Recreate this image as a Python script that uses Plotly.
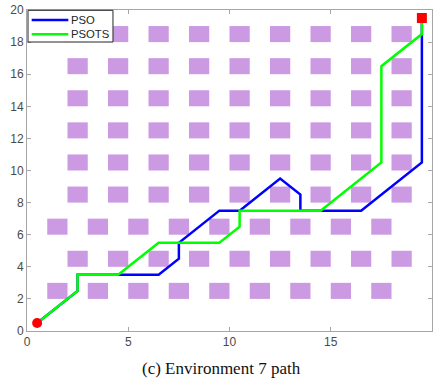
import plotly.graph_objects as go

# Obstacles (1x1 squares, lower-left corners)
rows_y = [2, 4, 6, 8, 10, 12, 14, 16, 18]
cols_a = [2, 4, 6, 8, 10, 12, 14, 16, 18]
cols_b = [1, 3, 5, 7, 9, 11, 13, 15, 17]
rows_b = [2, 6]
obs_size = 1

# Paths
pso_x = [0.5, 2.5, 2.5, 4.5, 6.5, 7.5, 7.5, 9.5, 10.5, 12.5, 13.5, 13.5, 16.5, 19.5, 19.5]
pso_y = [0.5, 2.5, 3.5, 3.5, 3.5, 4.5, 5.5, 7.5, 7.5, 9.5, 8.5, 7.5, 7.5, 10.5, 19.5]
psots_x = [0.5, 2.5, 2.5, 4.5, 6.5, 9.5, 10.5, 10.5, 14.5, 17.5, 17.5, 19.5, 19.5]
psots_y = [0.5, 2.5, 3.5, 3.5, 5.5, 5.5, 6.5, 7.5, 7.5, 10.5, 16.5, 18.5, 19.5]
start = (0.5, 0.5)
goal = (19.5, 19.5)

x_ticks = [0, 5, 10, 15, 20]
y_ticks = [0, 2, 4, 6, 8, 10, 12, 14, 16, 18, 20]

series_names = ["PSO", "PSOTS"]
series_colors = ["#0000ff", "#00ff00"]

fig = go.Figure()

shapes = []
for ry in rows_y:
    cols = cols_b if ry in rows_b else cols_a
    for cx in cols:
        shapes.append(dict(type="rect", xref="x", yref="y", x0=cx, x1=cx + obs_size,
                           y0=ry, y1=ry + obs_size, fillcolor="#cc99e3",
                           line=dict(width=0), layer="below"))

fig.add_trace(go.Scatter(x=pso_x, y=pso_y, mode="lines", name=series_names[0],
                         line=dict(color=series_colors[0], width=2.5), showlegend=False))
fig.add_trace(go.Scatter(x=psots_x, y=psots_y, mode="lines", name=series_names[1],
                         line=dict(color=series_colors[1], width=2.5), showlegend=False))
fig.add_trace(go.Scatter(x=[start[0]], y=[start[1]], mode="markers", showlegend=False,
                         marker=dict(color="#ff0000", size=10, symbol="circle")))
fig.add_trace(go.Scatter(x=[goal[0]], y=[goal[1]], mode="markers", showlegend=False,
                         marker=dict(color="#ff0000", size=10, symbol="square")))

# Compact MATLAB-style legend box (paper coordinates)
annotations = []
shapes.append(dict(type="rect", xref="paper", yref="paper", x0=0.0025, x1=0.2123,
                   y0=0.9003, y1=0.999, fillcolor="white",
                   line=dict(color="#262626", width=1), layer="above"))
legend_rows_y = [0.9688, 0.9243]
for name, color, ly in zip(series_names, series_colors, legend_rows_y):
    shapes.append(dict(type="line", xref="paper", yref="paper", x0=0.0116, x1=0.102,
                       y0=ly, y1=ly, line=dict(color=color, width=2.5), layer="above"))
    annotations.append(dict(text=name, xref="paper", yref="paper", x=0.104, y=ly,
                            xanchor="left", yanchor="middle", showarrow=False,
                            font=dict(family="Liberation Sans", size=11.3, color="#262626")))

annotations.append(dict(text="(c) Environment 7 path", xref="paper", yref="paper",
                        x=0.48, y=-0.118, xanchor="center", yanchor="middle", showarrow=False,
                        font=dict(family="Liberation Serif", size=17, color="#111111")))

axis_common = dict(showgrid=False, zeroline=False, showline=True, linecolor="#a6a6a6",
                   linewidth=1, mirror="ticks", ticks="inside", ticklen=4, automargin=False,
                   tickcolor="#a6a6a6", tickfont=dict(family="Liberation Sans", size=12, color="#4a4a4a"))

fig.update_layout(
    width=438, height=386,
    margin=dict(l=27, r=6, t=10, b=55),
    paper_bgcolor="white", plot_bgcolor="white",
    shapes=shapes,
    annotations=annotations,
    xaxis=dict(range=[0, 20], tickvals=x_ticks, **axis_common),
    yaxis=dict(range=[0, 20], tickvals=y_ticks, **axis_common),
    showlegend=False,
)

fig.write_html("out.html")
